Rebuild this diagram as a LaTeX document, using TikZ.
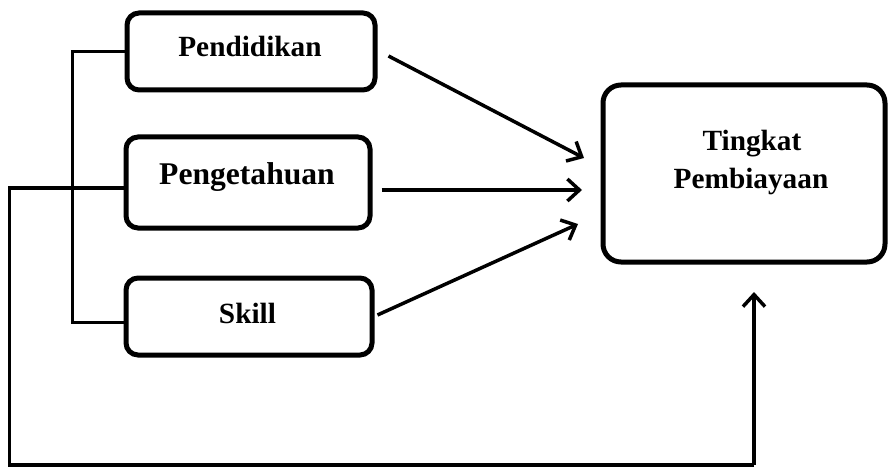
\documentclass[tikz,border=0pt]{standalone}
\usepackage{fontspec}
\setmainfont{Liberation Serif}
\usetikzlibrary{arrows.meta,calc}
\begin{document}
\begin{tikzpicture}[x=1pt,y=-1pt,
  box/.style={draw, line width=5pt, rounded corners=12pt, inner sep=0pt},
  lbl/.style={anchor=base, inner sep=0pt, font=\bfseries\fontsize{29.3}{32}\selectfont},
  link/.style={line width=3pt},
  arr/.style={line width=3.5pt, -{Straight Barb[length=12pt,width=22pt,line width=3.5pt]}}]
\useasboundingbox (0,0) rectangle (889,468);
% boxes
\node[box, minimum width=248pt, minimum height=77pt] (pend) at (251,51.5) {};
\node[box, minimum width=244pt, minimum height=91pt] (peng) at (248,182.5) {};
\node[box, minimum width=246pt, minimum height=77pt] (skill) at (249,316.5) {};
\node[box, rounded corners=18pt, minimum width=282pt, minimum height=177pt] (ting) at (744,173.5) {};
% labels
\node[lbl] (tpend) at (250,57) {Pendidikan};
\node[lbl, font=\bfseries\fontsize{31.6}{34}\selectfont] (tpeng) at (247,185) {Pengetahuan};
\node[lbl] (tskill) at (247.5,323) {Skill};
\node[lbl] (tting1) at (752,150) {Tingkat};
\node[lbl] (tting2) at (751,188) {Pembiayaan};
% arrow ends
\coordinate (e1) at (584,158);
\coordinate (e2) at (582,190);
\coordinate (e3) at (578,224);
\coordinate (corner) at (754,465);
\coordinate (e4) at (754,292);
% bracket
\draw[link] (pend.west) -- ++(-52,0) |- ([yshift=-5.5pt]skill.west);
% long feedback line
\draw[link, line width=3.3pt] ([yshift=-5.5pt]peng.west) -- ++(-114,0) |- (corner);
\draw[arr, line width=3.3pt] (corner) -- (e4);
% arrows
\draw[arr] ([shift={(11pt,-4.5pt)}]pend.east) -- (e1);
\draw[arr] ([shift={(9pt,-7.5pt)}]peng.east) -- (e2);
\draw[arr] ([shift={(3pt,1.5pt)}]skill.east) -- (e3);
\end{tikzpicture}
\end{document}
